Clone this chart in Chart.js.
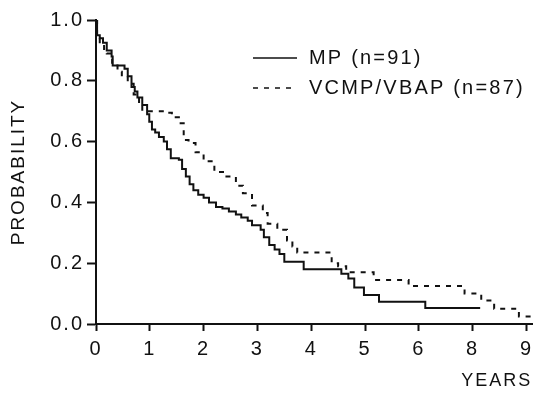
<!DOCTYPE html>
<html>
<head>
<meta charset="utf-8">
<script src="https://cdn.jsdelivr.net/npm/chart.js@4.4.1/dist/chart.umd.min.js"></script>
<style>
  html, body { margin: 0; padding: 0; background: #fff; }
  #wrap { width: 539px; height: 393px; position: relative; }
</style>
</head>
<body>
<div id="wrap"><canvas id="km-chart"></canvas></div>
<script>
  "use strict";

  // x positions are in axis-tick units (the printed axis skips "7")
  const tickPositions = [0, 1, 2, 3, 4, 5, 6, 7, 8];
  const tickLabels = ["0", "1", "2", "3", "4", "5", "6", "8", "9"];
  const yTicks = [0, 0.2, 0.4, 0.6, 0.8, 1.0];

  const mpLabel = "MP (n=91)";
  const mpX = [0, 0.02, 0.07, 0.13, 0.2, 0.29, 0.31, 0.53, 0.59, 0.66, 0.72, 0.77, 0.86, 0.95, 0.99, 1.04,
    1.1, 1.17, 1.26, 1.32, 1.39, 1.54, 1.6, 1.67, 1.74, 1.81, 1.9, 2.0, 2.1, 2.23, 2.35, 2.47, 2.6, 2.7,
    2.82, 2.9, 3.06, 3.12, 3.22, 3.32, 3.41, 3.5, 3.86, 4.56, 4.69, 4.8, 4.98, 5.26, 6.12, 7.14];
  const mpY = [1.0, 0.95, 0.94, 0.925, 0.9, 0.88, 0.85, 0.84, 0.815, 0.78, 0.765, 0.745, 0.72, 0.69, 0.665, 0.64,
    0.63, 0.615, 0.6, 0.575, 0.545, 0.54, 0.51, 0.485, 0.46, 0.44, 0.425, 0.415, 0.4, 0.385, 0.38, 0.37, 0.36, 0.35,
    0.34, 0.325, 0.31, 0.285, 0.26, 0.245, 0.23, 0.205, 0.18, 0.165, 0.15, 0.12, 0.095, 0.073, 0.053, 0.053];

  const vcLabel = "VCMP/VBAP (n=87)";
  const vcX = [0, 0.02, 0.07, 0.15, 0.2, 0.3, 0.4, 0.48, 0.59, 0.7, 0.8, 0.86, 1.3, 1.41, 1.54, 1.63,
    1.72, 1.85, 2.0, 2.2, 2.4, 2.6, 2.73, 2.9, 3.1, 3.19, 3.37, 3.55, 3.65, 3.74, 4.38, 4.5, 4.65,
    5.16, 5.81, 6.85, 7.16, 7.4, 7.86, 8.11];
  const vcY = [1.0, 0.94, 0.92, 0.905, 0.89, 0.85, 0.83, 0.815, 0.79, 0.755, 0.72, 0.7, 0.695, 0.68, 0.66, 0.605,
    0.595, 0.565, 0.535, 0.5, 0.485, 0.455, 0.43, 0.39, 0.365, 0.33, 0.31, 0.275, 0.255, 0.235, 0.2, 0.19, 0.17,
    0.145, 0.125, 0.1, 0.077, 0.05, 0.025, 0.025];

  const FONT = "'Liberation Sans', Arial, Helvetica, sans-serif";
  const INK = "#111";

  const toPoints = (xs, ys) => xs.map((x, i) => ({ x: x, y: ys[i] }));

  // the printed lettering is wide-set; canvas resizes reset the context, so set it again
  const wideText = {
    id: "wideText",
    beforeUpdate(chart) {
      chart.ctx.letterSpacing = "2px";
    },
    beforeDraw(chart) {
      chart.ctx.letterSpacing = "2px";
    },
  };

  // legend drawn inside the plot, upper right
  const insideLegend = {
    id: "insideLegend",
    afterDraw(chart) {
      const ctx = chart.ctx;
      const rows = [58, 88];
      ctx.save();
      chart.data.datasets.forEach((ds, i) => {
        const y = rows[i];
        ctx.beginPath();
        ctx.strokeStyle = INK;
        ctx.lineWidth = 1.6;
        ctx.setLineDash(ds.borderDash || []);
        ctx.moveTo(253, y);
        ctx.lineTo(297, y);
        ctx.stroke();
        ctx.setLineDash([]);
        ctx.fillStyle = INK;
        ctx.font = "20px " + FONT;
        ctx.letterSpacing = "2.2px";
        ctx.textBaseline = "middle";
        ctx.textAlign = "left";
        ctx.fillText(ds.label, 309, y);
      });
      ctx.restore();
    },
  };

  new Chart(document.getElementById("km-chart"), {
    type: "line",
    data: {
      datasets: [
        {
          label: mpLabel,
          data: toPoints(mpX, mpY),
          borderColor: INK,
          borderWidth: 2,
          stepped: "before",
          pointRadius: 0,
          fill: false,
        },
        {
          label: vcLabel,
          data: toPoints(vcX, vcY),
          borderColor: INK,
          borderWidth: 2,
          borderDash: [5, 6],
          stepped: "before",
          pointRadius: 0,
          fill: false,
        },
      ],
    },
    options: {
      responsive: true,
      maintainAspectRatio: false,
      animation: false,
      events: [],
      layout: { padding: { top: 20, right: 0, left: 0, bottom: 0 } },
      plugins: {
        legend: { display: false },
        tooltip: { enabled: false },
      },
      scales: {
        x: {
          type: "linear",
          min: 0,
          max: 8.11,
          afterBuildTicks: (scale) => {
            scale.ticks = tickPositions.map((v) => ({ value: v }));
          },
          afterFit: (scale) => {
            scale.height = 69;
          },
          ticks: {
            callback: (v, i) => tickLabels[i],
            color: INK,
            font: { family: FONT, size: 20 },
            maxRotation: 0,
            padding: 6,
          },
          grid: {
            drawOnChartArea: false,
            drawTicks: true,
            tickLength: 7,
            tickWidth: 2,
            tickColor: INK,
          },
          border: { color: INK, width: 2 },
          title: {
            display: true,
            text: "YEARS",
            align: "end",
            color: INK,
            font: { family: FONT, size: 18 },
            padding: { top: 0, bottom: 1 },
          },
        },
        y: {
          min: 0,
          max: 1,
          afterBuildTicks: (scale) => {
            scale.ticks = yTicks.map((v) => ({ value: v }));
          },
          afterFit: (scale) => {
            scale.width = 96;
          },
          ticks: {
            callback: (v) => v.toFixed(1),
            color: INK,
            font: { family: FONT, size: 20 },
            padding: 3,
          },
          grid: {
            drawOnChartArea: false,
            drawTicks: true,
            tickLength: 9,
            tickWidth: 2,
            tickColor: INK,
          },
          border: { color: INK, width: 2 },
          title: {
            display: true,
            text: "PROBABILITY",
            color: INK,
            font: { family: FONT, size: 19 },
            padding: { top: 7, bottom: 0 },
          },
        },
      },
    },
    plugins: [wideText, insideLegend],
  });
</script>
</body>
</html>
